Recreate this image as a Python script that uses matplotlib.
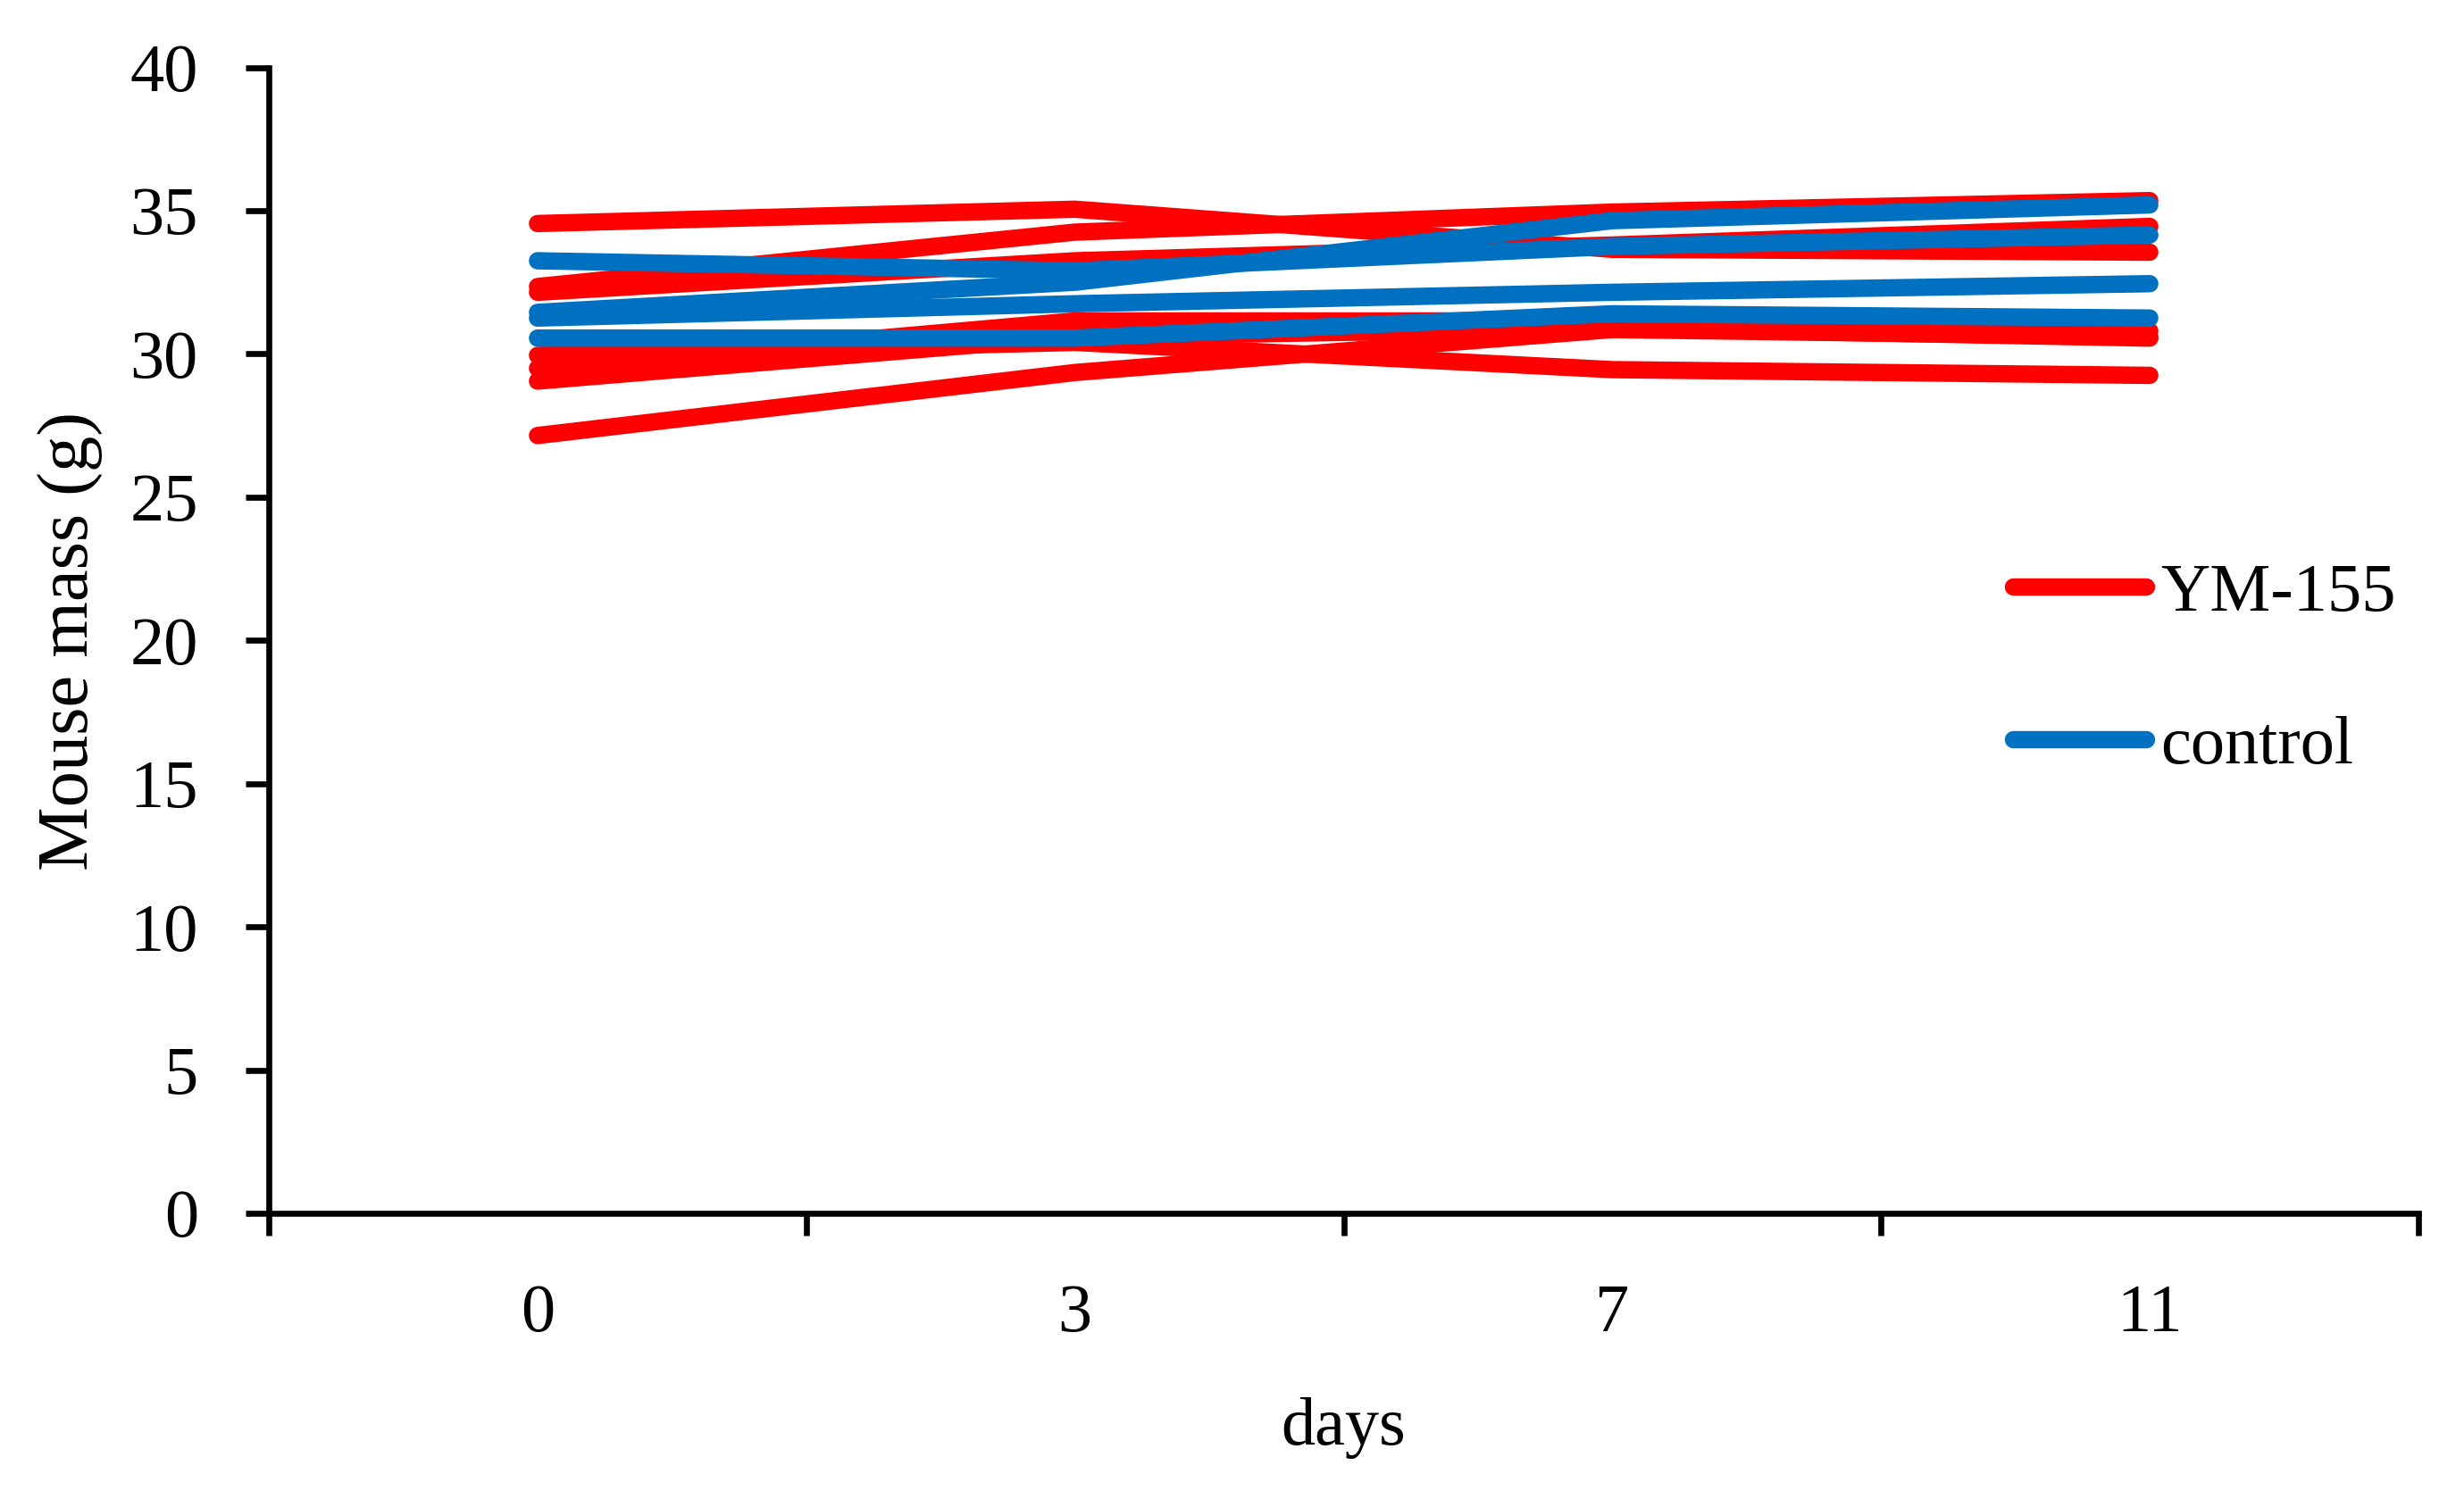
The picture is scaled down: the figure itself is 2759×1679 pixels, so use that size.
import matplotlib
matplotlib.use('Agg')
import matplotlib.pyplot as plt
from matplotlib.lines import Line2D

# ---------------- data ----------------
days = ['0', '3', '7', '11']
ym155 = [
    [34.55, 35.05, 33.65, 33.55],
    [32.35, 34.25, 34.95, 35.35],
    [32.15, 33.25, 33.80, 34.45],
    [29.50, 31.15, 31.15, 30.80],
    [29.95, 30.40, 29.45, 29.25],
    [29.05, 30.60, 30.90, 30.55],
    [27.15, 29.35, 30.85, 30.60],
]
control = [
    [33.25, 32.90, 33.75, 34.15],
    [31.45, 32.50, 34.65, 35.20],
    [31.25, 31.75, 32.15, 32.45],
    [30.55, 30.55, 31.40, 31.25],
]
yticks = [0, 5, 10, 15, 20, 25, 30, 35, 40]
series_labels = ['YM-155', 'control']
xlabel = 'days'
ylabel = 'Mouse mass (g)'

RED = '#FF0000'
BLUE = '#0070C0'
FONT = 'Liberation Serif'
FS = 55

plt.rcParams['font.family'] = [FONT, 'DejaVu Serif']

W, H = 2759, 1679
fig = plt.figure(figsize=(W / 100, H / 100), dpi=100)
left, right = 301 / W, 2708 / W
bottom, top = 1 - 1359 / H, 1 - 75.5 / H
ax = fig.add_axes([left, bottom, right - left, top - bottom])

x = list(range(len(days)))
for s in ym155:
    ax.plot(x, s, color=RED, lw=14, solid_capstyle='round', solid_joinstyle='round', zorder=2)
for s in control:
    ax.plot(x, s, color=BLUE, lw=14, solid_capstyle='round', solid_joinstyle='round', zorder=3)

ax.set_xlim(-0.5, len(days) - 0.5)
ax.set_ylim(0, 40)

# y axis
ax.set_yticks(yticks)
ax.set_yticklabels([str(v) for v in yticks], fontsize=FS, family=FONT)
ax.tick_params(axis='y', direction='out', length=19, width=4.8, pad=38)

# x axis: tick marks at category boundaries, labels centered in categories
ax.set_xticks([i - 0.5 for i in range(len(days) + 1)])
ax.set_xticklabels([''] * (len(days) + 1))
ax.set_xticks(x, minor=True)
ax.set_xticklabels(days, minor=True, fontsize=FS, family=FONT)
ax.tick_params(axis='x', which='major', direction='out', length=18, width=4.8)
ax.tick_params(axis='x', which='minor', length=0, pad=57)

for sp in ['top', 'right']:
    ax.spines[sp].set_visible(False)
for sp in ['left', 'bottom']:
    ax.spines[sp].set_linewidth(4.8)
    ax.spines[sp].set_color('black')

fig.text(79 / W, 1 - 718 / H, ylabel, rotation=90, ha='center', va='center',
         fontsize=58, family=FONT)
fig.text(1504 / W, 1 - 1600 / H, xlabel, ha='center', va='center',
         fontsize=FS, family=FONT)

handles = [Line2D([0], [0], color=RED, lw=14, solid_capstyle='round'),
           Line2D([0], [0], color=BLUE, lw=14, solid_capstyle='round')]
ax.legend(handles, series_labels, loc='center left', bbox_to_anchor=(0.8114, 0.474),
          frameon=False, borderpad=0, borderaxespad=0, handlelength=1.95,
          handletextpad=0.21, labelspacing=1.33, prop={'family': FONT, 'size': FS})

fig.savefig('out.png', dpi=100)
